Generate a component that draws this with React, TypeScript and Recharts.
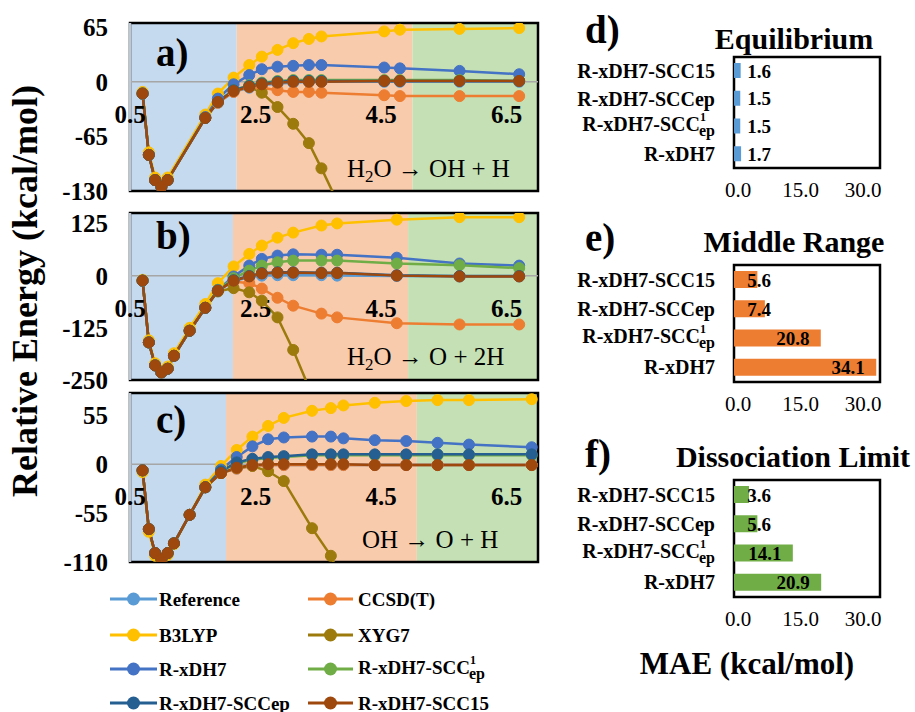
import React from 'react';
import {
  LineChart, Line, XAxis, YAxis, ReferenceArea, ReferenceLine, ReferenceDot,
  BarChart, Bar, LabelList,
} from 'recharts';

const FONT = "'Liberation Serif', 'Times New Roman', serif";

// ---------- series meta ----------
const seriesKeys = ['ref', 'ccsd', 'b3lyp', 'xyg7', 'rxdh7', 'scc1ep', 'sccep', 'scc15'];
const seriesNames = ['Reference', 'CCSD(T)', 'B3LYP', 'XYG7', 'R-xDH7', 'R-xDH7-SCC1ep', 'R-xDH7-SCCep', 'R-xDH7-SCC15'];
const seriesColors = ['#5B9BD5', '#ED7D31', '#FFC000', '#9C7A0C', '#4472C4', '#70AD47', '#255E91', '#9E480E'];

// ---------- panel a: H2O -> OH + H ----------
const aX = [0.7, 0.8, 0.9, 1.0, 1.1, 1.7, 1.9, 2.15, 2.4, 2.6, 2.85, 3.1, 3.35, 3.55, 4.55, 4.8, 5.75, 6.7];
const aRef = [-14, -87, -117, -125, -117, -43, -25, -12, -7, -4, -2, -1, 0, 0, 0, 0, 0, 0];
const aCcsd = [-14, -87, -117, -125, -117, -43, -25, -12, -6, -7, -10, -12, -12, -13, -16, -17, -17, -17];
const aB3lyp = [-12, -84, -114, -122, -114, -39, -14, 5, 20, 30, 38, 46, 51, 54, 60, 62, 63, 64];
const aXyg7 = [-14, -87, -117, -125, -117, -43, -24, -10, -6, -13, -30, -50, -73, -103, -260, -290, -400, -500];
const aRxdh7 = [-14, -87, -117, -125, -117, -42, -20, -3, 8, 15, 18, 19, 20, 20, 17, 16, 13, 9];
const aScc1ep = [-14, -87, -117, -125, -117, -43, -24, -10, -4, -1, 1, 2, 2, 2, 2, 2, 2, 1];
const aSccep = [-14, -87, -117, -125, -117, -43, -24, -10, -5, -2, 0, 1, 1, 1, 1, 1, 1, 1];
const aScc15 = [-14, -87, -117, -125, -117, -43, -24, -11, -6, -3, -1, 0, 0, 0, 1, 1, 1, 1];

// ---------- panel b: H2O -> O + 2H ----------
const bX = [0.7, 0.8, 0.9, 1.0, 1.1, 1.2, 1.45, 1.7, 1.9, 2.15, 2.4, 2.6, 2.85, 3.1, 3.55, 3.8, 4.75, 5.75, 6.7];
const bRef = [-12, -160, -215, -232, -223, -192, -132, -77, -36, -13, -4, 0, 1, 1, 1, 0, -1, -2, -2];
const bCcsd = [-12, -160, -215, -232, -223, -192, -132, -77, -36, -14, -18, -31, -53, -72, -91, -100, -114, -117, -117];
const bB3lyp = [-10, -155, -210, -228, -218, -186, -125, -68, -18, 22, 52, 72, 91, 103, 120, 125, 134, 140, 140];
const bXyg7 = [-12, -160, -215, -232, -223, -192, -132, -77, -38, -30, -40, -60, -100, -178, -340, -400, -550, -650, -750];
const bRxdh7 = [-12, -160, -215, -232, -223, -192, -132, -77, -34, -2, 24, 40, 48, 51, 50, 50, 43, 29, 24];
const bScc1ep = [-12, -160, -215, -232, -223, -192, -132, -77, -35, -6, 12, 24, 32, 36, 36, 36, 29, 25, 18];
const bSccep = [-12, -160, -215, -232, -223, -192, -132, -77, -36, -11, -1, 6, 8, 8, 7, 7, 1, -1, -1];
const bScc15 = [-12, -160, -215, -232, -223, -192, -132, -77, -36, -12, -2, 5, 7, 7, 6, 6, 0, -2, -2];

// ---------- panel c: OH -> O + H ----------
const cX = [0.7, 0.8, 0.9, 1.0, 1.1, 1.2, 1.45, 1.7, 1.95, 2.2, 2.45, 2.7, 2.95, 3.4, 3.7, 3.9, 4.4, 4.9, 5.4, 5.9, 6.9];
const cRef = [-7, -73, -100, -107, -100, -89, -57, -26, -10, -5, -2, -1, -1, -1, -1, -1, -1, -1, -1, -1, -1];
const cCcsd = [-7, -73, -100, -107, -100, -89, -57, -26, -10, -5, -2, -1, -1, -1, -1, -1, -1, -1, -1, -1, -1];
const cB3lyp = [-9, -76, -103, -109, -102, -90, -57, -23, -2, 16, 31, 43, 52, 60, 63, 66, 69, 71, 72, 72, 73];
const cXyg7 = [-7, -73, -100, -107, -100, -89, -57, -26, -10, -4, -2, -8, -19, -72, -103, -135, -200, -280, -360, -440, -560];
const cRxdh7 = [-7, -73, -100, -107, -100, -89, -57, -26, -6, 8, 20, 28, 30, 31, 31, 29, 27, 26, 24, 22, 19];
const cScc1ep = [-7, -73, -100, -107, -100, -89, -57, -26, -8, 1, 5, 7, 8, 10, 10, 10, 10, 10, 10, 10, 10];
const cSccep = [-7, -73, -100, -107, -100, -89, -57, -26, -8, 2, 6, 8, 9, 11, 11, 11, 11, 11, 11, 11, 11];
const cScc15 = [-7, -73, -100, -107, -100, -89, -57, -26, -10, -4, -1, 0, 0, 0, 0, 0, -1, -1, -1, -1, -1];

const xTicks = [0.5, 2.5, 4.5, 6.5];
const aYTicks = [-130, -65, 0, 65];
const bYTicks = [-250, -125, 0, 125];
const cYTicks = [-110, -55, 0, 55];

// ---------- MAE bars ----------
const barCategories = ['R-xDH7-SCC15', 'R-xDH7-SCCep', 'R-xDH7-SCC1ep', 'R-xDH7'];
const maeEquilibrium = [1.6, 1.5, 1.5, 1.7];
const maeMiddle = [5.6, 7.4, 20.8, 34.1];
const maeDissociation = [3.6, 5.6, 14.1, 20.9];
const maeTicks = [0, 15, 30];

function buildRows(xs: number[], cols: number[][]) {
  return xs.map((x, i) => {
    const row: any = { x };
    seriesKeys.forEach((k, j) => { row[k] = cols[j][i]; });
    return row;
  });
}

const rowsA = buildRows(aX, [aRef, aCcsd, aB3lyp, aXyg7, aRxdh7, aScc1ep, aSccep, aScc15]);
const rowsB = buildRows(bX, [bRef, bCcsd, bB3lyp, bXyg7, bRxdh7, bScc1ep, bSccep, bScc15]);
const rowsC = buildRows(cX, [cRef, cCcsd, cB3lyp, cXyg7, cRxdh7, cScc1ep, cSccep, cScc15]);

const BLUE_BG = '#C5D9EF';
const ORANGE_BG = '#F8CBAD';
const GREEN_BG = '#C5E0B4';

function LinePanel(props: any) {
  const { rows, yDomain, yTicks, bands, top, height, mTop, mBottom } = props;
  return (
    <div style={{ position: 'absolute', left: 0, top, width: 560, height }}>
      <LineChart width={560} height={height} data={rows} margin={{ top: mTop, right: 22, left: 0, bottom: mBottom }}>
        <XAxis type="number" dataKey="x" domain={[0.5, 7]} hide allowDataOverflow />
        <YAxis
          type="number"
          domain={yDomain}
          ticks={yTicks}
          interval={0}
          allowDataOverflow
          axisLine={false}
          tickLine={false}
          tickSize={0}
          tickMargin={22}
          width={130}
          tick={{ fill: '#000', fontSize: 25, fontWeight: 700, fontFamily: FONT }}
        />
        <ReferenceArea x1={0.5} x2={bands[0]} fill={BLUE_BG} fillOpacity={1} stroke="none" />
        <ReferenceArea x1={bands[0]} x2={bands[1]} fill={ORANGE_BG} fillOpacity={1} stroke="none" />
        <ReferenceArea x1={bands[1]} x2={7} fill={GREEN_BG} fillOpacity={1} stroke="none" />
        <ReferenceLine y={0} stroke="#A6A6A6" strokeWidth={1.5} />
        {xTicks.map((t) => (
          <ReferenceDot
            key={t}
            x={t}
            y={0}
            r={1}
            ifOverflow="visible"
            shape={(p: any) => (
              <text x={p.cx} y={p.cy + 41} textAnchor="middle" fontSize={25} fontWeight={700} fontFamily={FONT} fill="#000">
                {t.toFixed(1)}
              </text>
            )}
          />
        ))}
        {seriesKeys.map((k, i) => (
          <Line
            key={k}
            type="linear"
            dataKey={k}
            stroke={seriesColors[i]}
            strokeWidth={2.5}
            dot={{ r: 5.5, fill: seriesColors[i], stroke: seriesColors[i], strokeWidth: 1 }}
            activeDot={false}
            isAnimationActive={false}
          />
        ))}
        <ReferenceArea x1={0.5} x2={7} fill="none" fillOpacity={0} stroke="#000" strokeWidth={2.5} ifOverflow="visible" />
        <ReferenceLine x={0.5} stroke="#BFC8D2" strokeWidth={2.5} />
      </LineChart>
    </div>
  );
}

function CatTick(props: any) {
  const { x, y, payload } = props;
  const v = payload.value as string;
  const common = { fill: '#000', fontFamily: FONT, fontWeight: 700 };
  if (v === 'R-xDH7-SCC1ep') {
    return (
      <text x={x} y={y + 5} textAnchor="end" fontSize={20} {...common}>
        R-xDH7-SCC
        <tspan fontSize={12} dy={-10}>1</tspan>
        <tspan fontSize={16} dx={-7} dy={15}>ep</tspan>
      </text>
    );
  }
  return (
    <text x={x} y={y + 7} textAnchor="end" fontSize={20} {...common}>{v}</text>
  );
}

function BarValueLabel(props: any) {
  const { x, y, width, height, value } = props;
  const cx = Math.max(x + width - 28, x + 25);
  return (
    <text x={cx} y={y + height / 2 + 7} textAnchor="middle" fontSize={19} fontWeight={700} fontFamily={FONT} fill="#000">
      {Number(value).toFixed(1)}
    </text>
  );
}

function BarPanel(props: any) {
  const { values, color, top, height, mTop, mBottom, barSize } = props;
  const rows = barCategories.map((c, i) => ({ name: c, v: values[i] }));
  return (
    <div style={{ position: 'absolute', left: 540, top, width: 375, height }}>
      <BarChart layout="vertical" width={375} height={height} data={rows} margin={{ top: mTop, right: 35, left: 0, bottom: mBottom }}>
        <XAxis
          type="number"
          domain={[0, 35]}
          ticks={maeTicks}
          interval={0}
          tickFormatter={(v: number) => v.toFixed(1)}
          axisLine={false}
          tickLine={false}
          tickSize={0}
          tickMargin={14}
          height={30}
          tick={{ fill: '#000', fontSize: 21, fontFamily: FONT, dx: 4 }}
        />
        <YAxis
          type="category"
          dataKey="name"
          width={194}
          interval={0}
          axisLine={false}
          tickLine={false}
          tickSize={0}
          tickMargin={19}
          tick={<CatTick />}
        />
        <Bar dataKey="v" fill={color} barSize={barSize} isAnimationActive={false}>
          <LabelList dataKey="v" content={BarValueLabel} />
        </Bar>
        <ReferenceArea x1={0} x2={35} fill="none" fillOpacity={0} stroke="#000" strokeWidth={2.5} ifOverflow="visible" />
      </BarChart>
    </div>
  );
}

function Legend() {
  const rowsY = [599, 635, 669, 703];
  const colLine = [[110, 157], [308, 353]];
  const colText = [159, 358];
  return (
    <svg style={{ position: 'absolute', left: 0, top: 0 }} width={915} height={712}>
      {seriesKeys.map((k, i) => {
        const r = Math.floor(i / 2);
        const c = i % 2;
        const y = rowsY[r];
        const [x1, x2] = colLine[c];
        const name = seriesNames[i];
        return (
          <g key={k}>
            <line x1={x1} x2={x2} y1={y} y2={y} stroke={seriesColors[i]} strokeWidth={3} />
            <circle cx={(x1 + x2) / 2} cy={y} r={6.5} fill={seriesColors[i]} />
            {name === 'R-xDH7-SCC1ep' ? (
              <text x={colText[c]} y={y + 5} fontSize={19} fontWeight={700} fontFamily={FONT} fill="#000">
                R-xDH7-SCC
                <tspan fontSize={12} dy={-10}>1</tspan>
                <tspan fontSize={16} dx={-7} dy={15}>ep</tspan>
              </text>
            ) : (
              <text x={colText[c]} y={y + 6.5} fontSize={19} fontWeight={700} fontFamily={FONT} fill="#000">{name}</text>
            )}
          </g>
        );
      })}
    </svg>
  );
}

function Overlay() {
  const bold = { fontFamily: FONT, fontWeight: 700, fill: '#000' } as any;
  const reg = { fontFamily: FONT, fill: '#000' } as any;
  return (
    <svg style={{ position: 'absolute', left: 0, top: 0, pointerEvents: 'none' }} width={915} height={712}>
      <text transform="translate(37,291) rotate(-90)" textAnchor="middle" fontSize={36} {...bold}>Relative Energy (kcal/mol)</text>
      <text x={156} y={66} fontSize={39} {...bold}>a)</text>
      <text x={156} y={249} fontSize={39} {...bold}>b)</text>
      <text x={156} y={433} fontSize={39} {...bold}>c)</text>
      <text x={347} y={177} fontSize={25} {...reg}>H<tspan fontSize={17} dy={5}>2</tspan><tspan dy={-5}>O → OH + H</tspan></text>
      <text x={347} y={365} fontSize={25} {...reg}>H<tspan fontSize={17} dy={5}>2</tspan><tspan dy={-5}>O → O + 2H</tspan></text>
      <text x={362} y={548} fontSize={25} {...reg}>OH → O + H</text>
      <text x={585} y={43} fontSize={39} {...bold}>d)</text>
      <text x={794} y={49} textAnchor="middle" fontSize={30} {...bold}>Equilibrium</text>
      <text x={585} y={251} fontSize={39} {...bold}>e)</text>
      <text x={794} y={252} textAnchor="middle" fontSize={30} {...bold}>Middle Range</text>
      <text x={585} y={467} fontSize={39} {...bold}>f)</text>
      <text x={793} y={467} textAnchor="middle" fontSize={30} {...bold}>Dissociation Limit</text>
      <text x={747} y={674} textAnchor="middle" fontSize={31} {...bold}>MAE (kcal/mol)</text>
    </svg>
  );
}

export default function App() {
  return (
    <div style={{ position: 'absolute', left: 0, top: 0, width: 915, height: 712, background: '#fff', overflow: 'hidden' }}>
      <LinePanel rows={rowsA} yDomain={[-130, 70]} yTicks={aYTicks} bands={[2.2, 5.0]} top={0} height={210} mTop={23} mBottom={19} />
      <LinePanel rows={rowsB} yDomain={[-250, 150]} yTicks={bYTicks} bands={[2.14, 4.93]} top={200} height={200} mTop={13} mBottom={20} />
      <LinePanel rows={rowsC} yDomain={[-110, 80]} yTicks={cYTicks} bands={[2.03, 5.07]} top={385} height={195} mTop={8} mBottom={18} />
      <BarPanel values={maeEquilibrium} color="#5B9BD5" top={0} height={210} mTop={57} mBottom={12} barSize={15} />
      <BarPanel values={maeMiddle} color="#ED7D31" top={200} height={230} mTop={65} mBottom={18} barSize={17} />
      <BarPanel values={maeDissociation} color="#70AD47" top={430} height={282} mTop={50} mBottom={85} barSize={17} />
      <Legend />
      <Overlay />
    </div>
  );
}
